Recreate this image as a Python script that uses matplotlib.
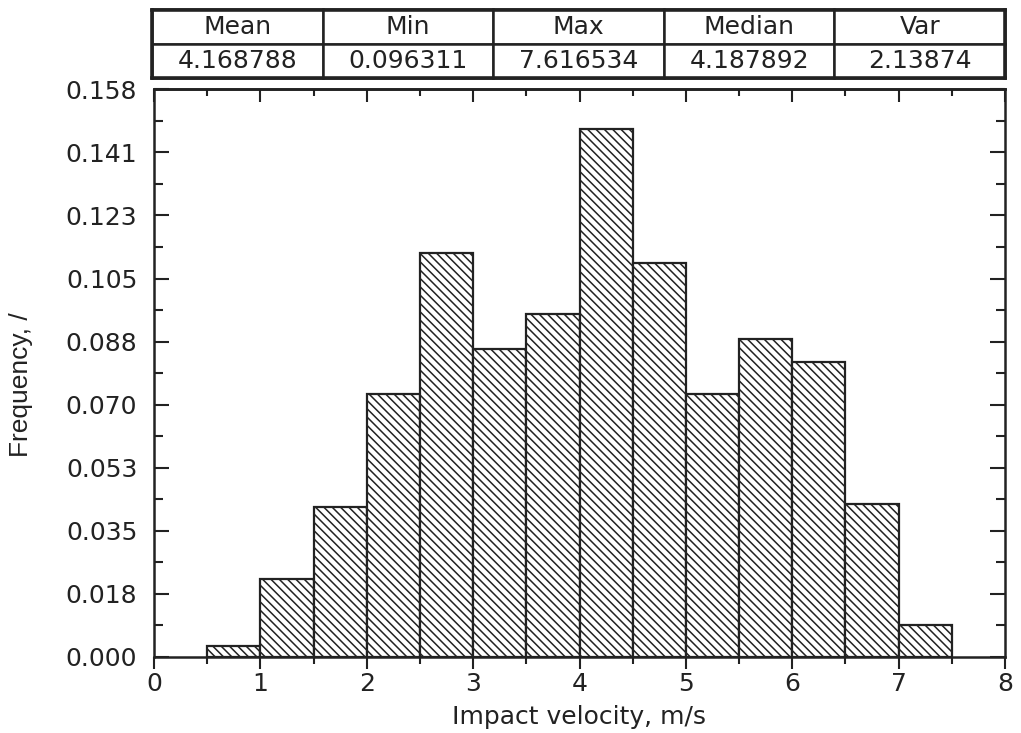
import numpy as np
import matplotlib
matplotlib.use('Agg')
import matplotlib.pyplot as plt
from matplotlib.ticker import MultipleLocator, FixedLocator

# histogram of impact velocity (bin left edges, width 0.5 m/s)
bin_left = [0.5, 1.0, 1.5, 2.0, 2.5, 3.0, 3.5, 4.0, 4.5, 5.0, 5.5, 6.0, 6.5, 7.0]
frequency = [0.0030, 0.0217, 0.0418, 0.0732, 0.1126, 0.0857, 0.0956,
             0.1470, 0.1098, 0.0732, 0.0885, 0.0821, 0.0426, 0.0088]
bin_width = 0.5

# y axis ticks
y_max = 0.1582
y_labels = ['0.000', '0.018', '0.035', '0.053', '0.070', '0.088',
            '0.105', '0.123', '0.141', '0.158']

# summary table
stat_names = ['Mean', 'Min', 'Max', 'Median', 'Var']
stat_values = ['4.168788', '0.096311', '7.616534', '4.187892', '2.13874']

plt.rcParams['font.family'] = ['DejaVu Sans']
plt.rcParams['hatch.linewidth'] = 1.1
plt.rcParams['hatch.color'] = '#222222'

fig = plt.figure(figsize=(10.21, 7.33), dpi=100)
ax = fig.add_axes([154 / 1021, 1 - 657 / 733, 851 / 1021, (657 - 89.3) / 733])

ax.bar(bin_left, frequency, width=bin_width, align='edge', facecolor='white',
       edgecolor='#222222', linewidth=1.6, hatch='\\\\\\\\')

ax.set_xlim(0, 8)
ax.set_ylim(0, y_max)

ax.xaxis.set_major_locator(MultipleLocator(1))
ax.xaxis.set_minor_locator(MultipleLocator(0.5))
y_pos = np.linspace(0, y_max, len(y_labels))
ax.yaxis.set_major_locator(FixedLocator(y_pos))
ax.set_yticklabels(y_labels)
ax.yaxis.set_minor_locator(FixedLocator((y_pos[:-1] + y_pos[1:]) / 2))

ax.tick_params(axis='x', which='major', direction='out', length=8.5, width=1.5,
               labelsize=18, top=False, pad=2, colors='#222222')
ax.tick_params(axis='x', which='minor', direction='out', length=5, width=1.5,
               top=False, colors='#222222')
ax.tick_params(axis='y', which='major', direction='in', length=10.5, width=1.5,
               labelsize=18, right=True, pad=12, colors='#222222')
ax.tick_params(axis='y', which='minor', direction='in', length=6.5, width=1.5,
               right=True, colors='#222222')

# top ticks point inward
top = ax.secondary_xaxis('top')
top.xaxis.set_major_locator(MultipleLocator(1))
top.xaxis.set_minor_locator(MultipleLocator(0.5))
top.tick_params(which='major', direction='in', length=9.5, width=1.5, labeltop=False,
                colors='#222222')
top.tick_params(which='minor', direction='in', length=5, width=1.5, colors='#222222')
top.spines['top'].set_linewidth(1.8)

for s in ax.spines.values():
    s.set_linewidth(1.8)
    s.set_color('#222222')

ax.set_xlabel('Impact velocity, m/s', fontsize=18, color='#222222', labelpad=7)
ax.set_ylabel('Frequency, /', fontsize=19, family='Liberation Sans',
              color='#222222')
ax.yaxis.set_label_coords(-0.142, 0.48)

# stats table above the plot
tax = fig.add_axes([152 / 1021, 1 - 78 / 733, 853 / 1021, 68.5 / 733])
tax.set_xticks([])
tax.set_yticks([])
for s in tax.spines.values():
    s.set_linewidth(2.6)
    s.set_color('#222222')
    s.set_zorder(5)
tbl = tax.table(cellText=[stat_values], colLabels=stat_names,
                cellLoc='center', bbox=[0, 0, 1, 1])
tbl.auto_set_font_size(False)
for cell in tbl.get_celld().values():
    cell.set_linewidth(1.8)
    cell.set_edgecolor('#222222')
    cell.get_text().set_fontsize(18)
    cell.get_text().set_color('#222222')

fig.savefig('out.png', dpi=100)
